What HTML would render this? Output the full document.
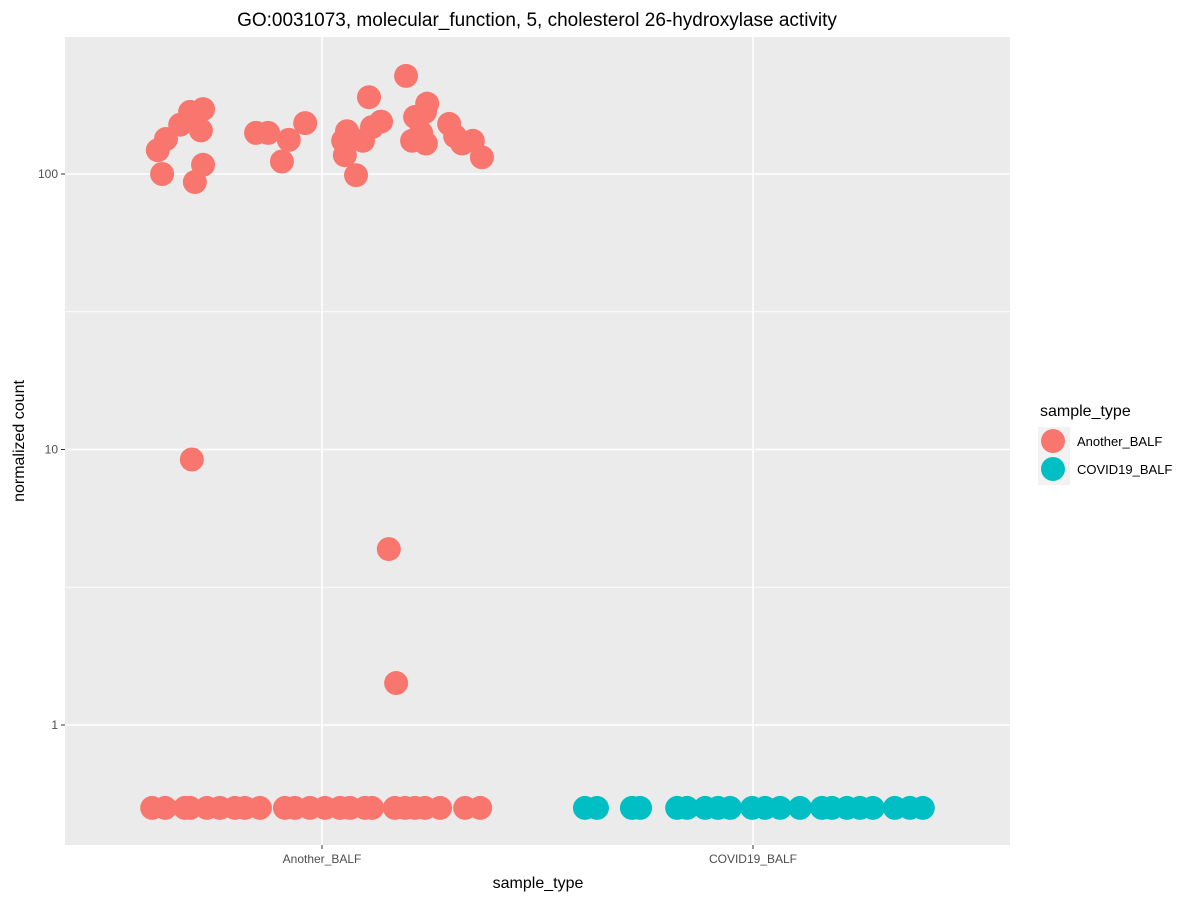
<!DOCTYPE html>
<html><head><meta charset="utf-8"><style>
body{margin:0;background:#fff;font-family:"Liberation Sans",sans-serif}
</style></head><body>
<svg id="chart" width="1200" height="900" xmlns="http://www.w3.org/2000/svg" font-family="Liberation Sans, sans-serif">
<text x="537" y="26" text-anchor="middle" font-size="19" fill="#000">GO:0031073, molecular_function, 5, cholesterol 26-hydroxylase activity</text>
<rect x="65" y="37" width="945" height="808" fill="#ebebeb"/>
<g id="grid"></g>
<g id="points"></g>
<g id="axes"></g>
<text x="538" y="888" text-anchor="middle" font-size="16">sample_type</text>
<text transform="translate(24,441) rotate(-90)" text-anchor="middle" font-size="16">normalized count</text>
<g>
<text x="1040" y="416" font-size="16">sample_type</text>
<rect x="1038" y="427" width="32" height="58" fill="#f2f2f2"/>
<circle cx="1053" cy="441" r="12" fill="#F8766D"/>
<circle cx="1053" cy="469" r="12" fill="#00BFC4"/>
<text x="1077" y="446" font-size="13">Another_BALF</text>
<text x="1077" y="474" font-size="13">COVID19_BALF</text>
</g>
</svg>
<script>
const categories = ["Another_BALF","COVID19_BALF"];
const colors = ["#F8766D","#00BFC4"];
const yTicks = [1,10,100];
const yTickLabels = ["1","10","100"];
// Another_BALF high values and jitter offsets (category units)
const anotherValues = [122,134,100,151,168,172,144,93.5,108,9.2,141,141,111,133,153,132,143,117,99,132,190,148,155,227,161,180,168,132,141,129,152,137,129,132,115,4.35,1.42];
const anotherJitter = [-0.381,-0.362,-0.371,-0.329,-0.306,-0.276,-0.281,-0.295,-0.276,-0.302,-0.153,-0.125,-0.093,-0.077,-0.039,0.049,0.058,0.053,0.079,0.095,0.109,0.116,0.137,0.195,0.216,0.244,0.239,0.209,0.230,0.241,0.295,0.309,0.325,0.350,0.371,0.155,0.172];
// zero-count samples (plotted at 0.5)
const anotherZeroJitter = [-0.394,-0.364,-0.318,-0.306,-0.267,-0.237,-0.202,-0.179,-0.144,-0.086,-0.063,-0.028,0.007,0.042,0.065,0.100,0.116,0.169,0.193,0.216,0.239,0.274,0.332,0.367];
const covidZeroJitter = [-0.390,-0.362,-0.281,-0.262,-0.176,-0.153,-0.111,-0.081,-0.053,-0.002,0.028,0.063,0.109,0.160,0.183,0.218,0.248,0.278,0.329,0.364,0.394];
const zeroValue = 0.5;

const NS="http://www.w3.org/2000/svg";
const px0=65,px1=1010,py0=37,py1=845;
function xScale(i,j){return 322+(i+j)*431;}
function yScale(v){return 725-Math.log10(v)*275.5;}
function mk(tag,attrs,parent){const e=document.createElementNS(NS,tag);for(const k in attrs)e.setAttribute(k,attrs[k]);parent.appendChild(e);return e;}
const grid=document.getElementById('grid'),pts=document.getElementById('points'),axes=document.getElementById('axes');
// minor grid
for(let d=-1;d<3;d++){const v=Math.pow(10,d+0.5);const y=yScale(v);if(y>py0&&y<py1){
 const l=mk('line',{x1:px0,x2:px1,y1:y,y2:y,stroke:'#fff','stroke-width':0.8},grid);
 
 }}
yTicks.forEach((t,i)=>{const y=yScale(t);
 const l=mk('line',{x1:px0,x2:px1,y1:y,y2:y,stroke:'#fff','stroke-width':1.6},grid);
 
 
 const tk=mk('line',{x1:px0-4,x2:px0,y1:y,y2:y,stroke:'#333','stroke-width':1},axes);
 
 
 const tx=mk('text',{x:px0-7,y:y+4,'text-anchor':'end','font-size':12,fill:'#4d4d4d'},axes);
 tx.textContent=yTickLabels[i];
 
 });
categories.forEach((c,i)=>{const x=xScale(i,0);
 const l=mk('line',{x1:x,x2:x,y1:py0,y2:py1,stroke:'#fff','stroke-width':1.6},grid);
 
 
 const tk=mk('line',{x1:x,x2:x,y1:py1,y2:py1+4,stroke:'#333','stroke-width':1},axes);
 
 
 const tx=mk('text',{x:x,y:py1+18,'text-anchor':'middle','font-size':12,fill:'#4d4d4d'},axes);
 tx.textContent=c;
 
 });
function dot(ci,j,v){const c=mk('circle',{cx:xScale(ci,j),cy:yScale(v),r:12,fill:colors[ci]},pts);
 
 }
anotherZeroJitter.forEach(j=>dot(0,j,zeroValue));
covidZeroJitter.forEach(j=>dot(1,j,zeroValue));
anotherValues.forEach((v,k)=>dot(0,anotherJitter[k],v));
</script>
</body></html>
